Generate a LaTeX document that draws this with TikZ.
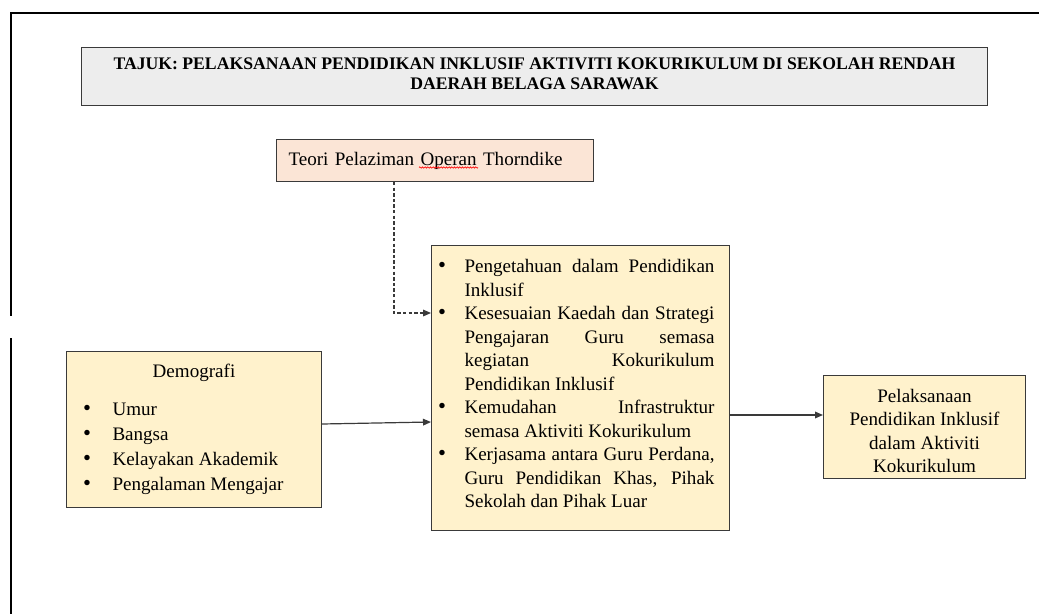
\documentclass[tikz,border=0pt]{standalone}
\usepackage{fontspec}
\setmainfont{Liberation Serif}
\usetikzlibrary{arrows.meta,decorations.pathmorphing}
\definecolor{titlegray}{HTML}{EDEDED}
\definecolor{peach}{HTML}{FBE5D6}
\definecolor{cream}{HTML}{FFF2CC}
\definecolor{edge}{HTML}{3A3A3A}
\newlength\tw \setlength\tw{187.5pt}
\newcommand\bigbul{{\fontsize{17}{17}\selectfont\textbullet}}
\newcommand\blt[1]{\noindent\makebox[18.75pt][l]{\hspace*{-1pt}\bigbul}#1\par}
\newcommand\cnt[1]{\noindent\hspace*{18.75pt}#1\par}
\newcommand\jst[1]{\makebox[\tw][s]{#1}}
\newcommand\dit[1]{\noindent\hspace*{13.5pt}\makebox[21pt][l]{\hspace*{-1pt}\bigbul}#1\par}
\begin{document}
\begin{tikzpicture}[x=0.75pt,y=-0.75pt,
  box/.style={draw=edge,line width=0.75pt,inner sep=0pt,anchor=north west},
  bodyfont/.style={font=\fontsize{14.3}{17.6}\selectfont},
  arr/.style={draw=edge,line width=0.9pt,-{Triangle[length=6pt,width=5pt]}},
  dsh/.style={arr,line width=0.8pt,dash pattern=on 2.6pt off 1.6pt}]
\useasboundingbox (0,0) rectangle (1039,614);
% page frame
\draw[line width=1pt] (1039,13) -- (11,13) -- (11,316);
\draw[line width=1pt] (11,338) -- (11,614);
% title
\node[box,fill=titlegray,minimum width=679.5pt,minimum height=43.5pt,
      font=\bfseries\fontsize{13.25}{15}\selectfont] (title) at (81,47)
  {\parbox{660pt}{\centering TAJUK: PELAKSANAAN PENDIDIKAN INKLUSIF AKTIVITI KOKURIKULUM DI SEKOLAH RENDAH\\DAERAH BELAGA SARAWAK\par\vspace{4.5pt}}};
% theory
\node[box,fill=peach,minimum height=31.5pt,text width=237.75pt,align=left,bodyfont] (theory) at (276,139)
  {\hspace*{9pt}Teori Pelaziman Operan Thorndike};
\draw[red,line width=0.5pt,decorate,decoration={snake,amplitude=0.5pt,segment length=2pt}] (419,167.5) -- (478,167.5);
% centre
\node[box,fill=cream,minimum width=223.5pt,minimum height=213.75pt,bodyfont] (ctr) at (431,245)
  {\hspace*{6pt}\parbox{206.25pt}{%
   \blt{\jst{Pengetahuan dalam Pendidikan}}
   \cnt{Inklusif}
   \blt{\jst{Kesesuaian Kaedah dan Strategi}}
   \cnt{\jst{Pengajaran Guru semasa}}
   \cnt{\jst{kegiatan Kokurikulum}}
   \cnt{Pendidikan Inklusif}
   \blt{\jst{Kemudahan Infrastruktur}}
   \cnt{semasa Aktiviti Kokurikulum}
   \blt{\jst{Kerjasama antara Guru Perdana,}}
   \cnt{\jst{Guru Pendidikan Khas, Pihak}}
   \cnt{Sekolah dan Pihak Luar}\vspace{6.5pt}}\hspace*{11.25pt}};
% demography
\node[box,fill=cream,minimum width=191.25pt,minimum height=117pt,bodyfont] (dem) at (66,351)
  {\parbox{191.25pt}{\baselineskip=18.75pt
   {\centering Demografi\par}\vspace{9.75pt}
   \dit{Umur}
   \dit{Bangsa}
   \dit{Kelayakan Akademik}
   \dit{Pengalaman Mengajar}}};
% outcome
\node[box,fill=cream,minimum width=151.5pt,minimum height=77.25pt,
      font=\fontsize{14.3}{17.55}\selectfont] (out) at (823,375)
  {\parbox{151.5pt}{\centering Pelaksanaan\\Pendidikan Inklusif\\dalam Aktiviti\\Kokurikulum\par\vspace{-6pt}}};
% connectors
\coordinate (ya) at (0,424);
\coordinate (yb) at (0,422);
\coordinate (yc) at (0,415);
\coordinate (d1) at (394,313);
\draw[arr] (dem.east |- ya) -- (ctr.west |- yb);
\draw[arr] (ctr.east |- yc) -- (out.west |- yc);
\draw[dsh] (theory.south -| d1) |- (ctr.west |- d1);
\end{tikzpicture}
\end{document}
